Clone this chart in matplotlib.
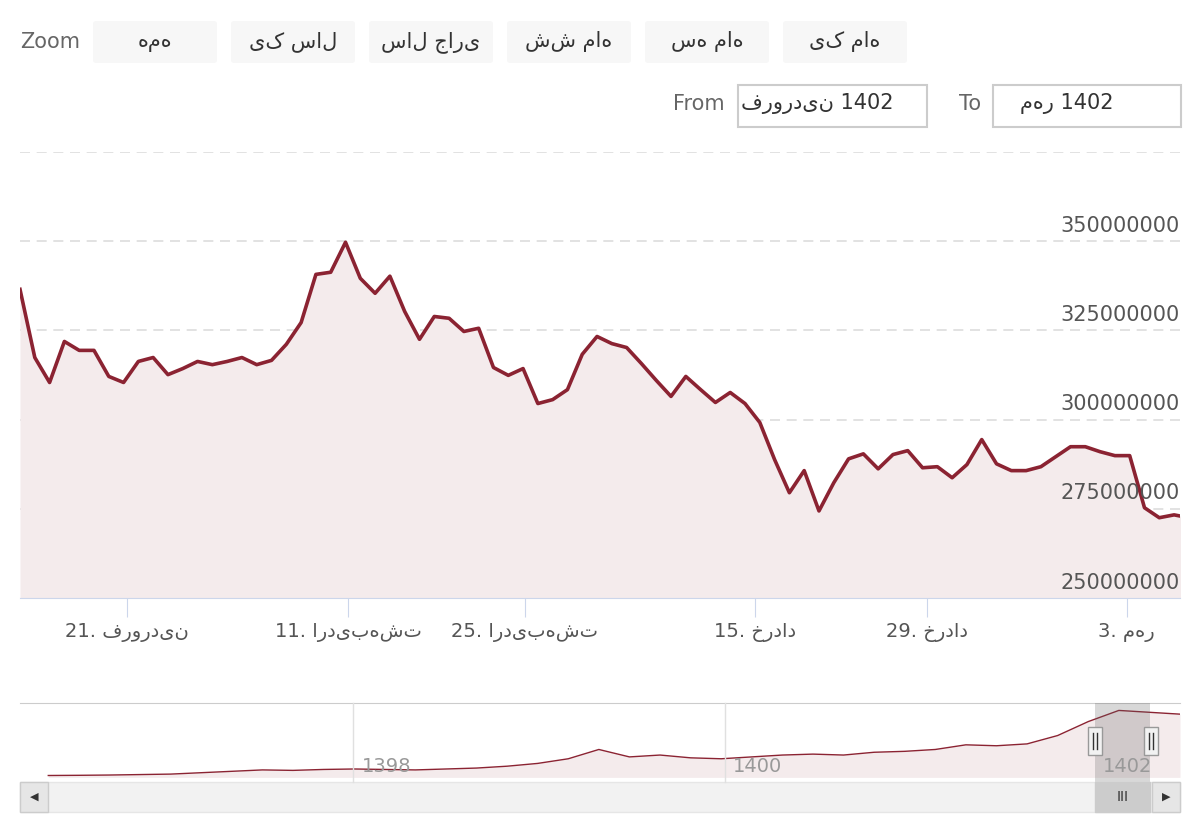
import matplotlib
matplotlib.use("Agg")
import matplotlib.pyplot as plt
from matplotlib.patches import Rectangle, FancyBboxPatch
import numpy as np

plt.rcParams['font.family'] = ['DejaVu Sans', 'Noto Sans']

# price in millions
prices = [336.5, 317.4, 310.4, 321.9, 319.4, 319.4, 312.1, 310.4, 316.3, 317.4, 312.6, 314.3, 316.3, 315.4,
          316.3, 317.4, 315.4, 316.6, 321.1, 327.2, 340.7, 341.3, 349.7, 339.6, 335.4, 340.2, 330.3, 322.5,
          328.9, 328.4, 324.7, 325.6, 314.6, 312.4, 314.3, 304.5, 305.6, 308.4, 318.3, 323.3, 321.3, 320.2,
          315.7, 311.0, 306.5, 312.1, 308.4, 304.8, 307.6, 304.5, 299.2, 288.8, 279.5, 285.7, 274.4, 282.3,
          289.0, 290.4, 286.2, 290.2, 291.3, 286.5, 286.8, 283.7, 287.4, 294.4, 287.6, 285.7, 285.7, 286.8,
          289.6, 292.4, 292.4, 291.0, 289.9, 289.9, 275.3, 272.5, 273.3, 272.5]
tick_pos = [7.2, 22.2, 34.1, 49.7, 61.3, 74.8]
tick_labels = ['21. فروردین', '11. اردیبهشت', '25. اردیبهشت', '15. خرداد', '29. خرداد', '3. مهر']
y_ticks = [250, 275, 300, 325, 350, 375]

nav_vals = [2, 2.2, 2.5, 3, 3.5, 5, 6.5, 8, 7.5, 8.5, 9, 8.5, 8, 9, 10, 12, 15, 20, 30, 22, 24, 21, 20,
            22, 24, 25, 24, 27, 28, 30, 35, 34, 36, 45, 60, 72, 70, 68]
nav_labels = ['1398', '1400', '1402']
nav_label_x = [362, 733, 1103]

LINE = '#8b2332'
FILL = '#f4ebec'
W, H = 1200, 840
fig = plt.figure(figsize=(12, 8.4), dpi=100)

def fx(x): return x / W
def fy(y): return 1 - y / H

# Main axes
ax = fig.add_axes([fx(20), fy(598), fx(1160), (598 - 152) / H])
x = np.arange(len(prices))
ax.fill_between(x, prices, 250, color=FILL, lw=0)
ax.plot(x, prices, color=LINE, lw=2.6)
ax.set_xlim(0, 78.4)
ax.set_ylim(250, 375)
for v in y_ticks[1:]:
    ax.axhline(v, color='#dddddd', lw=1.2, ls=(0, (6, 4)), zorder=0)
for s in ['top', 'left', 'right']:
    ax.spines[s].set_visible(False)
ax.spines['bottom'].set_color('#ccd6eb')
ax.set_yticks([])
ax.set_xticks(tick_pos)
ax.set_xticklabels(tick_labels, fontsize=14, color='#555555')
ax.tick_params(axis='x', length=14, color='#ccd6eb', pad=4)
for v in y_ticks[:-1]:
    ax.text(1.0, v + 1.5, f'{v*1000000:.0f}', transform=ax.get_yaxis_transform(),
            ha='right', va='bottom', fontsize=15, color='#555555')

# Navigator
nav = fig.add_axes([fx(20), fy(782), fx(1160), (782 - 703) / H])
nx = np.linspace(0, 1, len(nav_vals))
nav.fill_between(nx, nav_vals, 0, color=FILL, lw=0)
nav.plot(nx, nav_vals, color=LINE, lw=1)
nav.set_xlim(-0.025, 1.0)
nav.set_ylim(-5, 80)
nav.set_xticks([]); nav.set_yticks([])
for s in ['left', 'right', 'bottom']:
    nav.spines[s].set_visible(False)
nav.spines['top'].set_color('#cccccc')
for xp in [353, 725]:
    fig.add_artist(plt.Line2D([fx(xp)] * 2, [fy(782), fy(703)], color='#e0e0e0', lw=1))
for lab, xp in zip(nav_labels, nav_label_x):
    fig.text(fx(xp), fy(767), lab, fontsize=14, color='#999999', va='center')
fig.add_artist(Rectangle((fx(1095), fy(782)), fx(55), (782 - 703) / H, color='#666666', alpha=0.25, lw=0))
for hx in [1095, 1151]:
    fig.add_artist(Rectangle((fx(hx - 7), fy(755)), fx(14), 28 / H, fc='#f2f2f2', ec='#999999', lw=1))
    for dx in (-2, 2):
        fig.add_artist(plt.Line2D([fx(hx + dx)] * 2, [fy(749), fy(733)], color='#333333', lw=1))

# Scrollbar
fig.add_artist(Rectangle((fx(20), fy(812)), fx(1160), 30 / H, fc='#f2f2f2', ec='#e6e6e6', lw=1))
fig.add_artist(Rectangle((fx(1095), fy(812)), fx(55), 30 / H, fc='#cccccc', ec='#cccccc', lw=1))
fig.text(fx(1123), fy(797), 'III', fontsize=10, color='#333333', ha='center', va='center')
for bx, mk in [(20, '◀'), (1152, '▶')]:
    fig.add_artist(Rectangle((fx(bx), fy(812)), fx(28), 30 / H, fc='#e6e6e6', ec='#cccccc', lw=1))
    fig.text(fx(bx + 14), fy(797), mk, fontsize=8, color='#333333', ha='center', va='center')

# Zoom buttons
fig.text(fx(20), fy(42), 'Zoom', fontsize=15, color='#666666', va='center')
btns = ['همه', 'یک سال', 'سال جاری', 'شش ماه', 'سه ماه', 'یک ماه']
for i, b in enumerate(btns):
    cx = 155 + 138 * i
    fig.add_artist(FancyBboxPatch((fx(cx - 62), fy(63)), fx(124), 42 / H,
                                  boxstyle='round,pad=0,rounding_size=0.003', fc='#f7f7f7', ec='none'))
    fig.text(fx(cx), fy(42), b, fontsize=15, color='#333333', ha='center', va='center')

# From / To
fig.text(fx(725), fy(104), 'From', fontsize=15, color='#666666', ha='right', va='center')
fig.add_artist(Rectangle((fx(738), fy(127)), fx(189), 42 / H, fc='white', ec='#cccccc', lw=1.5))
fig.text(fx(817), fy(104), 'فروردین 1402', fontsize=15, color='#333333', ha='center', va='center')
fig.text(fx(981), fy(104), 'To', fontsize=15, color='#666666', ha='right', va='center')
fig.add_artist(Rectangle((fx(993), fy(127)), fx(188), 42 / H, fc='white', ec='#cccccc', lw=1.5))
fig.text(fx(1067), fy(104), 'مهر 1402', fontsize=15, color='#333333', ha='center', va='center')

fig.savefig('out.png', dpi=100)
